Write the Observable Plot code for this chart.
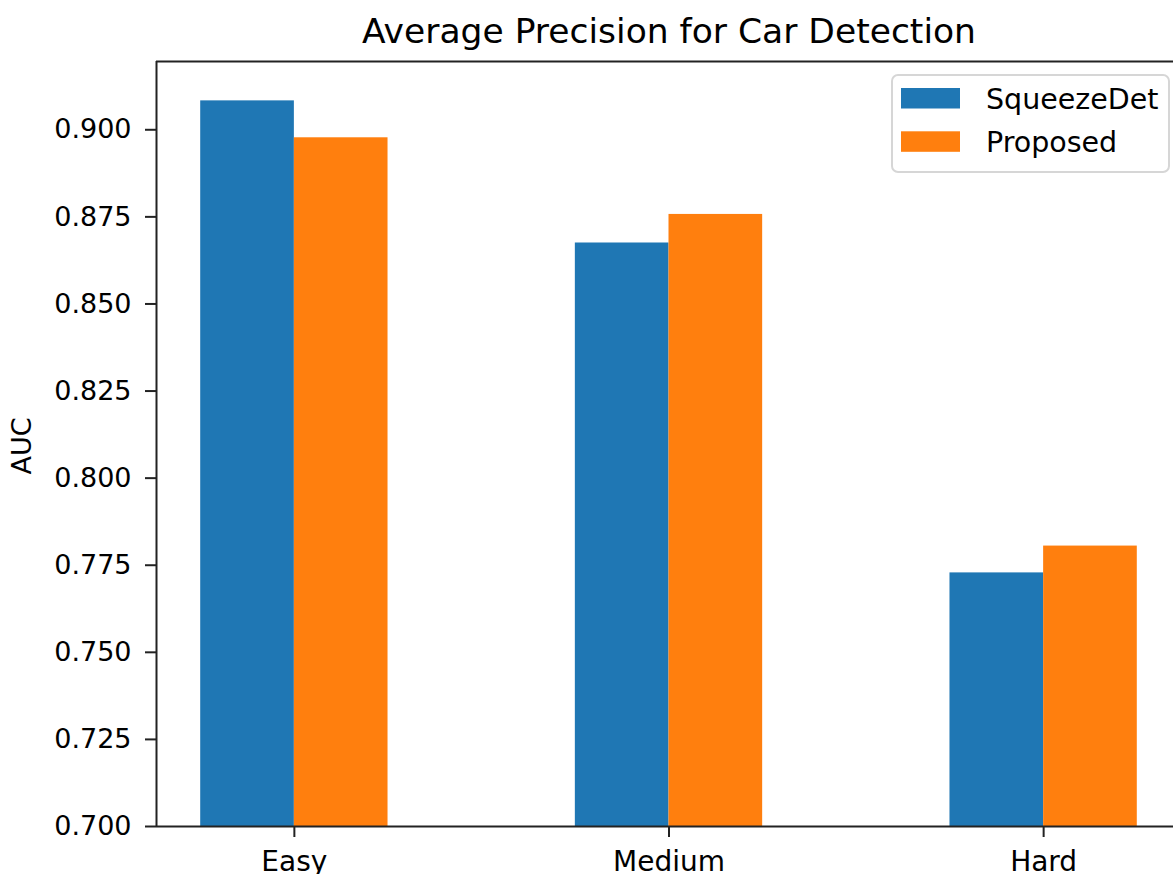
<!DOCTYPE html>
<html>
<head>
<meta charset="utf-8">
<script src="https://cdn.jsdelivr.net/npm/d3@7"></script>
<script src="https://cdn.jsdelivr.net/npm/@observablehq/plot@0.6"></script>
<style>
  html, body { margin: 0; padding: 0; background: #fff; }
  #chart svg { display: block; overflow: hidden; }
</style>
</head>
<body>
<div id="chart"></div>
<script>
const categories = ["Easy", "Medium", "Hard"];
const seriesNames = ["SqueezeDet", "Proposed"];
const squeezeDet = [0.9083, 0.8675, 0.7728];
const proposed = [0.8977, 0.8757, 0.7805];
const yTicks = [0.700, 0.725, 0.750, 0.775, 0.800, 0.825, 0.850, 0.875, 0.900];
const colors = ["#1f77b4", "#ff7f0e"];
const titleText = "Average Precision for Car Detection";
const yLabel = "AUC";

const barWidth = 0.25;
const rows = [];
categories.forEach((c, i) => {
  rows.push({cat: c, idx: i, series: seriesNames[0], value: squeezeDet[i], x1: i - barWidth, x2: i});
  rows.push({cat: c, idx: i, series: seriesNames[1], value: proposed[i], x1: i, x2: i + barWidth});
});

const W = 1173, H = 874;
const mL = 156, mT = 61, mB = 48;
const yMin = 0.7, yMax = 0.9196;
const font = "DejaVu Sans, sans-serif";

const plot = Plot.plot({
  width: W,
  height: H,
  marginLeft: mL,
  marginRight: 0,
  marginTop: mT,
  marginBottom: mB,
  style: {fontFamily: font, color: "#000", background: "#fff"},
  x: {type: "linear", domain: [-0.368, 2.368], range: [mL, 1181]},
  y: {domain: [yMin, yMax], range: [H - mB, mT]},
  color: {domain: seriesNames, range: colors},
  marks: [
    Plot.rectY(rows, {x1: "x1", x2: "x2", y1: yMin, y2: "value", fill: "series"}),
    Plot.axisY({ticks: yTicks, tickFormat: d3.format(".3f"), tickSize: 11, tickPadding: 14,
      fontSize: 27, strokeWidth: 2, stroke: "#222", label: null}),
    Plot.axisX({ticks: categories.map((_, i) => i), tickFormat: i => categories[i], tickSize: 11,
      tickPadding: 14, fontSize: 28, strokeWidth: 2, stroke: "#222", label: null}),
    Plot.ruleX([-0.368], {stroke: "#222", strokeWidth: 2}),
    Plot.ruleY([yMin, yMax], {stroke: "#222", strokeWidth: 2}),
    Plot.text([yLabel], {frameAnchor: "left", textAnchor: "middle", dx: -134, dy: 2, rotate: -90, fontSize: 27, fill: "#000"})
  ]
});

document.getElementById("chart").appendChild(plot);

const svg = d3.select(plot);
svg.append("text")
  .attr("x", 669).attr("y", 43)
  .attr("text-anchor", "middle")
  .attr("font-family", font)
  .attr("font-size", 34.5)
  .attr("fill", "#000")
  .text(titleText);

const lg = svg.append("g");
lg.append("rect")
  .attr("x", 892).attr("y", 75).attr("width", 277).attr("height", 97)
  .attr("rx", 6).attr("fill", "#fff").attr("fill-opacity", 0.8)
  .attr("stroke", "#d6d6d6").attr("stroke-width", 2);
seriesNames.forEach((s, i) => {
  const y0 = 88 + i * 43.3;
  lg.append("rect").attr("x", 901).attr("y", y0).attr("width", 59).attr("height", 20.5)
    .attr("fill", colors[i]);
  lg.append("text").attr("x", 986).attr("y", y0 + 21)
    .attr("text-anchor", "start")
    .attr("font-family", font).attr("font-size", 28.5).attr("fill", "#000")
    .text(s);
});
</script>
</body>
</html>
